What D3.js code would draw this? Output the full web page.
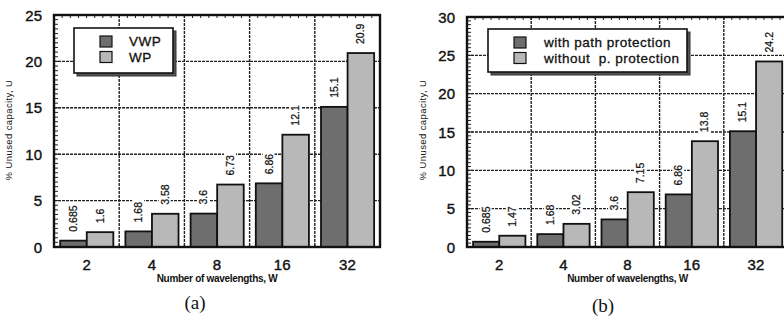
<!DOCTYPE html>
<html>
<head>
<meta charset="utf-8">
<script src="https://cdn.jsdelivr.net/npm/d3@7"></script>
<style>
  html, body { margin: 0; padding: 0; background: #fff; }
  svg text { font-family: "Liberation Sans", Arial, sans-serif; fill: #111; white-space: pre; }
</style>
</head>
<body>
<svg id="chart" width="784" height="324"></svg>
<script>
// data
var wavelengths = ["2", "4", "8", "16", "32"];
var vwp = [0.685, 1.68, 3.6, 6.86, 15.1];
var wp = [1.6, 3.58, 6.73, 12.1, 20.9];
var withProt = [0.685, 1.68, 3.6, 6.86, 15.1];
var withoutProt = [1.47, 3.02, 7.15, 13.8, 24.2];
var yTicksA = [0, 5, 10, 15, 20, 25];
var yTicksB = [0, 5, 10, 15, 20, 25, 30];
var seriesA = ["VWP", "WP"];
var seriesB = ["with path protection", "without  p. protection"];

var dark = "#6e6e6e", light = "#b8b8b8";
var svg = d3.select("#chart");

function panel(o) {
    var g = svg.append("g");
    var x = d3.scaleBand().domain(wavelengths).range([o.left, o.right]).padding(0);
    var bw = x.bandwidth();
    var xi = d3.scaleBand().domain([0, 1]).range([bw * 0.095, bw * 0.91]).padding(0);
    var y = d3.scaleLinear().domain([0, o.ymax]).range([o.bottom, o.top]);

    // grid
    g.selectAll(".hg").data(o.yTicks.slice(1, -1)).enter().append("line")
        .attr("x1", o.left).attr("x2", o.right)
        .attr("y1", function (d) { return y(d); }).attr("y2", function (d) { return y(d); })
        .attr("stroke", "#222").attr("stroke-width", 1.4).attr("stroke-dasharray", "3,1");
    g.selectAll(".vg").data(wavelengths.slice(1)).enter().append("line")
        .attr("x1", function (d) { return x(d); }).attr("x2", function (d) { return x(d); })
        .attr("y1", o.top).attr("y2", o.bottom)
        .attr("stroke", "#222").attr("stroke-width", 1.4).attr("stroke-dasharray", "3,1");

    // minor ticks left
    var minor = d3.range(0, o.ymax + 0.01, 0.5);
    g.selectAll(".mt").data(minor).enter().append("line")
        .attr("x1", o.left).attr("x2", function (d) { return o.left + (d % 5 === 0 ? 6 : 4); })
        .attr("y1", function (d) { return y(d); }).attr("y2", function (d) { return y(d); })
        .attr("stroke", "#222").attr("stroke-width", 1);
    // minor ticks bottom / top
    var xm = d3.scaleLinear().domain([0, 40]).range([o.left, o.left + bw * 5]);
    var xmt = d3.range(1, 40);
    g.selectAll(".bt").data(xmt).enter().append("line")
        .attr("x1", function (d) { return xm(d); }).attr("x2", function (d) { return xm(d); })
        .attr("y1", o.bottom).attr("y2", o.bottom - 3)
        .attr("stroke", "#222").attr("stroke-width", 1);
    g.selectAll(".tt").data(xmt).enter().append("line")
        .attr("x1", function (d) { return xm(d); }).attr("x2", function (d) { return xm(d); })
        .attr("y1", o.top).attr("y2", o.top + 3)
        .attr("stroke", "#222").attr("stroke-width", 1);

    // bars
    var rows = [];
    wavelengths.forEach(function (w, i) {
        rows.push({ w: w, s: 0, v: o.a[i] });
        rows.push({ w: w, s: 1, v: o.b[i] });
    });
    g.selectAll(".bar").data(rows).enter().append("rect")
        .attr("x", function (d) { return x(d.w) + xi(d.s); })
        .attr("width", xi.bandwidth())
        .attr("y", function (d) { return y(d.v); })
        .attr("height", function (d) { return o.bottom - y(d.v); })
        .attr("fill", function (d) { return d.s === 0 ? dark : light; })
        .attr("stroke", "#111").attr("stroke-width", 1.8);

    // value labels
    var lab = g.selectAll(".lab").data(rows).enter().append("g")
        .attr("transform", function (d) {
            return "translate(" + (x(d.w) + xi(d.s) + xi.bandwidth() / 2 + 3.5) + "," + (y(d.v) - 9) + ") rotate(-90)";
        });
    lab.append("text").attr("font-size", 10.5).attr("stroke", "#111").attr("stroke-width", 0.25)
        .text(function (d) { return String(d.v); })
        .each(function () {
            var b = this.getBBox();
            d3.select(this.parentNode).insert("rect", "text")
                .attr("x", b.x - 2).attr("y", b.y).attr("width", b.width + 4).attr("height", b.height)
                .attr("fill", "#fff");
        });

    // frame
    g.append("rect").attr("x", o.left).attr("y", o.top)
        .attr("width", o.right - o.left).attr("height", o.bottom - o.top)
        .attr("fill", "none").attr("stroke", "#111").attr("stroke-width", 2.4);

    // y tick labels
    g.selectAll(".yl").data(o.yTicks).enter().append("text")
        .attr("x", o.left - 12).attr("y", function (d) { return y(d) + 5.5; })
        .attr("text-anchor", "end").attr("font-size", 15).attr("stroke", "#111").attr("stroke-width", 0.4)
        .text(function (d) { return d; });
    // x tick labels
    g.selectAll(".xl").data(wavelengths).enter().append("text")
        .attr("x", function (d) { return x(d) + bw / 2; }).attr("y", o.bottom + 23)
        .attr("text-anchor", "middle").attr("font-size", 15).attr("stroke", "#111").attr("stroke-width", 0.4)
        .text(function (d) { return d; });

    // axis titles
    g.append("text").attr("x", (o.left + o.left + bw * 5) / 2).attr("y", o.bottom + 35)
        .attr("text-anchor", "middle").attr("font-size", 10).attr("font-weight", "bold")
        .attr("letter-spacing", -0.3).text("Number of wavelengths, W");
    g.append("text").attr("transform", "translate(" + o.ytx + ",130) rotate(-90)")
        .attr("text-anchor", "middle").attr("font-size", 9.5).attr("letter-spacing", 0.4)
        .text("% Unused capacity, U");

    // panel tag
    g.append("text").attr("x", o.tagx).attr("y", o.tagy).attr("text-anchor", "middle")
        .attr("font-size", 19).style("font-family", "'Liberation Serif', serif").text(o.tag);

    // legend
    var L = o.legend;
    g.append("rect").attr("x", L.x + 3).attr("y", L.y + 3).attr("width", L.w).attr("height", L.h)
        .attr("fill", "#555").attr("stroke", "#333");
    g.append("rect").attr("x", L.x).attr("y", L.y).attr("width", L.w).attr("height", L.h)
        .attr("fill", "#fff").attr("stroke", "#111").attr("stroke-width", 1.6);
    o.names.forEach(function (n, i) {
        g.append("rect").attr("x", L.sx).attr("y", L.y + 8 + i * 15.5).attr("width", 12).attr("height", 11)
            .attr("fill", i === 0 ? dark : light).attr("stroke", "#111").attr("stroke-width", 1.2);
        g.append("text").attr("x", L.tx).attr("y", L.y + 18 + i * 15.5).attr("font-size", 13.5)
            .attr("letter-spacing", 0.5).attr("stroke", "#111").attr("stroke-width", 0.3).text(n);
    });
}

panel({
    left: 54, right: 380, top: 15, bottom: 247, ymax: 25, yTicks: yTicksA,
    a: vwp, b: wp, names: seriesA, ytx: 12, tag: "(a)", tagx: 195, tagy: 309,
    legend: { x: 74, y: 28, w: 99, h: 45, sx: 100, tx: 129 }
});
panel({
    left: 467, right: 788, top: 17, bottom: 247, ymax: 30, yTicks: yTicksB,
    a: withProt, b: withoutProt, names: seriesB, ytx: 426, tag: "(b)", tagx: 603, tagy: 312,
    legend: { x: 488, y: 29, w: 199, h: 43, sx: 514, tx: 544 }
});
</script>
</body>
</html>
